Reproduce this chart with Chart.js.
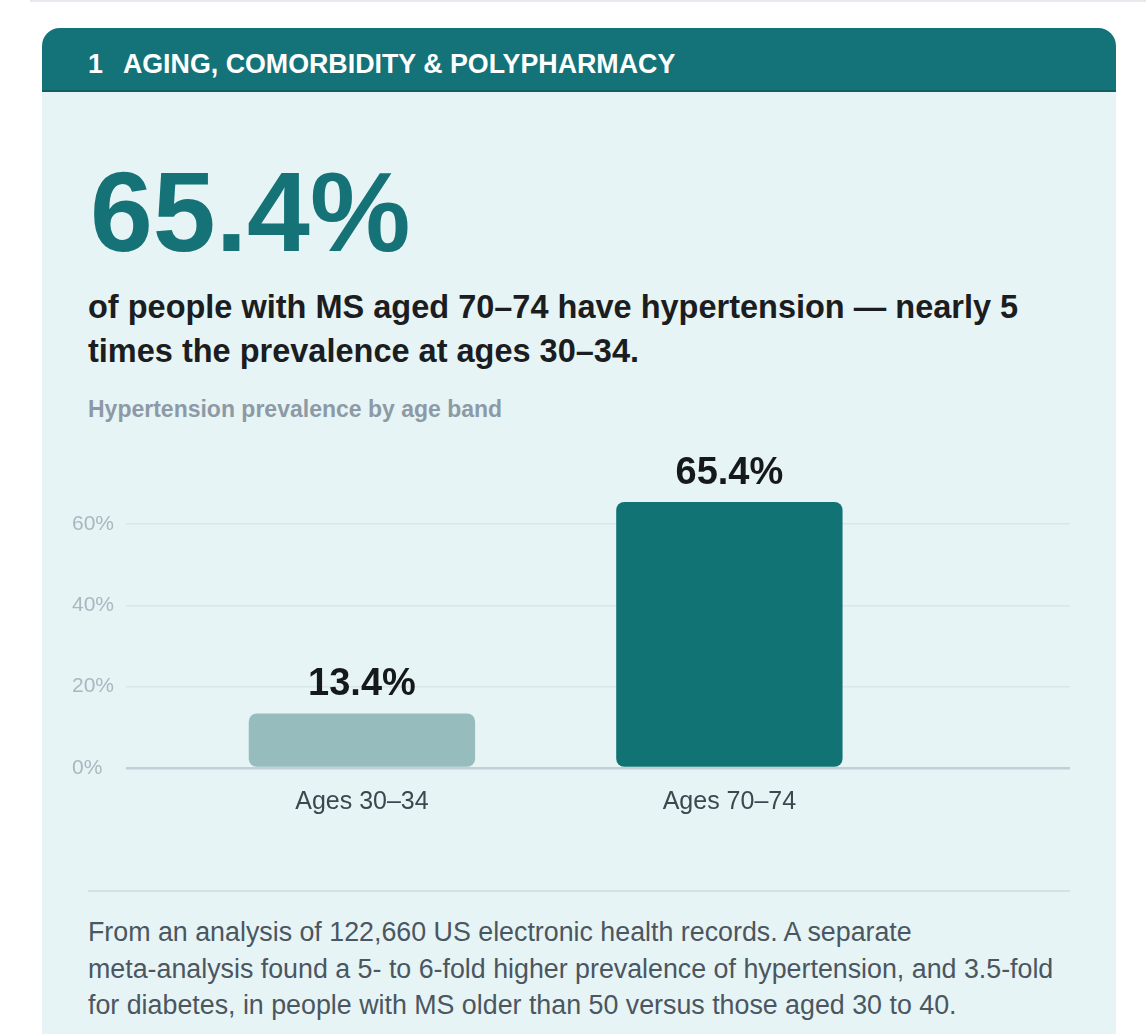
<!DOCTYPE html>
<html>
<head>
<meta charset="utf-8">
<script src="https://cdn.jsdelivr.net/npm/chart.js@4.4.1/dist/chart.umd.min.js"></script>
<style>
  html, body { margin: 0; padding: 0; background: #fff; }
  body { width: 1146px; height: 1034px; overflow: hidden; position: relative; font-family: "Liberation Sans", Arial, sans-serif; }
  .topline { position: absolute; left: 30px; right: 0; top: 0; height: 2px; background: #e6e9ee; }
  .card { position: absolute; left: 42px; top: 28px; width: 1074px; height: 1020px; background: #e6f4f5; border-radius: 18px 18px 0 0; }
  .hdr { height: 64px; line-height: 73px; overflow: hidden; background: #137378; color: #fff; font-weight: bold; font-size: 26.8px; padding-left: 46px; border-radius: 18px 18px 0 0; border-bottom: 2px solid #0f5f63; box-sizing: border-box; }
  .hdr .num { margin-right: 20px; }
  .big { position: absolute; left: 48px; top: 128px; font-size: 113px; line-height: 112px; font-weight: bold; color: #157377; }
  .sub { position: absolute; left: 46px; top: 257px; width: 990px; font-size: 32.5px; line-height: 44px; font-weight: bold; color: #1b1d20; }
  .cap { position: absolute; left: 46px; top: 368px; font-size: 23px; line-height: 26px; font-weight: bold; color: #8d9aa6; }
  .chartbox { position: absolute; left: 30px; top: 396px; width: 998px; height: 404px; }
  .sep { position: absolute; left: 46px; top: 862px; width: 982px; height: 2px; background: #d6e0e5; }
  .foot { position: absolute; left: 46px; top: 886px; width: 1000px; font-size: 26.8px; line-height: 36.5px; color: #4b5661; }
</style>
</head>
<body>
<div class="topline"></div>
<div class="card">
  <div class="hdr"><span class="num">1</span>AGING, COMORBIDITY &amp; POLYPHARMACY</div>
  <div class="big">65.4%</div>
  <div class="sub">of people with MS aged 70–74 have hypertension — nearly 5<br>times the prevalence at ages 30–34.</div>
  <div class="cap">Hypertension prevalence by age band</div>
  <div class="chartbox"><canvas id="chart"></canvas></div>
  <div class="sep"></div>
  <div class="foot">From an analysis of 122,660 US electronic health records. A separate<br>meta-analysis found a 5- to 6-fold higher prevalence of hypertension, and 3.5-fold<br>for diabetes, in people with MS older than 50 versus those aged 30 to 40.</div>
</div>

<script>
var categories = ['Ages 30–34', 'Ages 70–74'];
var positions = [1, 2];
var prevalence = [13.4, 65.4];
var barColors = ['#97bcbd', '#127374'];
var yTicks = [0, 20, 40, 60];

// value labels above each bar
var valueLabels = {
    id: 'valueLabels',
    afterDatasetsDraw: function (chart) {
        var ctx = chart.ctx;
        var meta = chart.getDatasetMeta(0);
        ctx.save();
        ctx.font = 'bold 38px "Liberation Sans", Arial, sans-serif';
        ctx.fillStyle = '#16191c';
        ctx.textAlign = 'center';
        ctx.textBaseline = 'alphabetic';
        meta.data.forEach(function (bar, i) {
            ctx.fillText(prevalence[i].toFixed(1) + '%', bar.x, bar.y - 18);
        });
        ctx.restore();
    }
};

var drawChart = function (id) {
    const ctx = document.getElementById(id);
    return new Chart(ctx, {
        type: 'bar',
        data: {
            datasets: [
                {
                    data: positions.map(function (p, i) { return { x: p, y: prevalence[i] }; }),
                    backgroundColor: barColors,
                    borderRadius: 8,
                    borderSkipped: false,
                    barPercentage: 0.77,
                    categoryPercentage: 0.8,
                },
            ],
        },
        options: {
            responsive: true,
            maintainAspectRatio: false,
            animation: false,
            layout: { padding: 0 },
            plugins: {
                legend: { display: false },
                tooltip: { enabled: false },
            },
            scales: {
                x: {
                    type: 'linear',
                    offset: false,
                    min: 0.358,
                    max: 2.927,
                    afterBuildTicks: function (scale) {
                        scale.ticks = positions.map(function (p) { return { value: p }; });
                    },
                    ticks: {
                        callback: function (v, i) { return categories[i]; },
                        color: '#3e4650',
                        font: { size: 25, family: '"Liberation Sans", Arial, sans-serif' },
                        padding: 11,
                        maxRotation: 0,
                    },
                    grid: { display: false },
                    border: { display: false },
                },
                y: {
                    min: 0,
                    max: 80,
                    afterBuildTicks: function (scale) {
                        scale.ticks = yTicks.map(function (v) { return { value: v }; });
                    },
                    ticks: {
                        callback: function (v) { return v + '%'; },
                        color: '#adb6c0',
                        font: { size: 21, family: '"Liberation Sans", Arial, sans-serif' },
                        padding: 6,
                        crossAlign: 'far',
                    },
                    grid: {
                        drawTicks: false,
                        color: function (c) { return c.tick && c.tick.value === 0 ? '#c4ced7' : '#d9e6ea'; },
                        lineWidth: function (c) { return c.tick && c.tick.value === 0 ? 2.5 : 1.5; },
                    },
                    border: { display: false },
                },
            },
        },
        plugins: [valueLabels],
    });
};

drawChart('chart');
</script>
</body>
</html>
